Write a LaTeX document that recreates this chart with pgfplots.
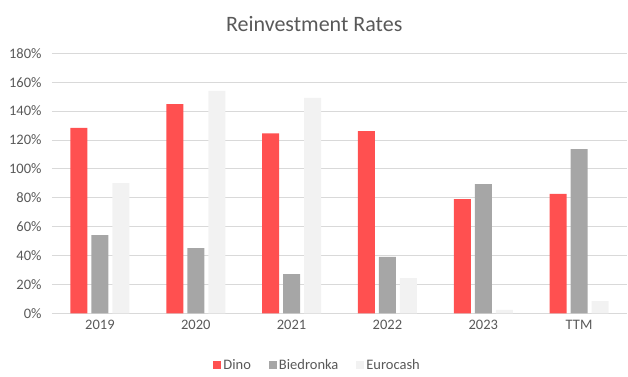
\documentclass[border=0pt]{standalone}
\usepackage{fontspec}
\setmainfont{Carlito}
\usepackage{pgfplots}
\pgfplotsset{compat=1.18}
\definecolor{dino}{HTML}{FF5050}
\definecolor{bied}{HTML}{A6A6A6}
\definecolor{euro}{HTML}{F2F2F2}
\definecolor{txt}{HTML}{595959}
\definecolor{gridc}{HTML}{D9D9D9}
\begin{document}
\begin{tikzpicture}
\path[use as bounding box] (-52pt,-62.7pt) rectangle (576pt,313.3pt);
\begin{axis}[
  at={(0,0)}, anchor=south west,
  scale only axis, width=575pt, height=260pt,
  ybar=4pt, bar width=17pt,
  xmin=-0.5, xmax=5.5, ymin=0, ymax=180,
  xtick={0,1,2,3,4,5},
  xticklabels={2019,2020,2021,2022,2023,TTM},
  ytick={0,20,...,180},
  yticklabel={\pgfmathprintnumber{\tick}\%},
  /pgf/number format/assume math mode=true,
  axis line style={draw=none},
  ymajorgrids, xmajorgrids=false,
  y grid style={draw=gridc, line width=0.8pt},
  major tick length=0pt,
  tick label style={text=txt, font=\fontsize{14.5}{16}\selectfont},
  xticklabel style={yshift=-3pt},
  yticklabel style={xshift=-7pt},
  title={Reinvestment Rates},
  title style={text=txt, font=\fontsize{22}{26}\selectfont, at={(0.456,1)}, yshift=12pt},
  legend style={at={(0.462,-0.199)}, anchor=center, draw=none, legend columns=-1,
    font=\fontsize{14.5}{16}\selectfont, text=txt,
    /tikz/every even column/.append style={column sep=16pt}},
  legend image code/.code={\fill[#1] (0pt,-4pt) rectangle (8pt,4pt);},
  every axis plot/.append style={draw=none},
]
\addplot[fill=dino] coordinates {(0,128.3) (1,144.9) (2,124.5) (3,126.2) (4,79.1) (5,82.6)};
\addplot[fill=bied] coordinates {(0,54.2) (1,45.2) (2,27.2) (3,39.0) (4,89.5) (5,113.7)};
\addplot[fill=euro] coordinates {(0,90.2) (1,154.0) (2,149.2) (3,24.4) (4,2.3) (5,8.5)};
\legend{Dino,Biedronka,Eurocash}
\end{axis}
\end{tikzpicture}
\end{document}
